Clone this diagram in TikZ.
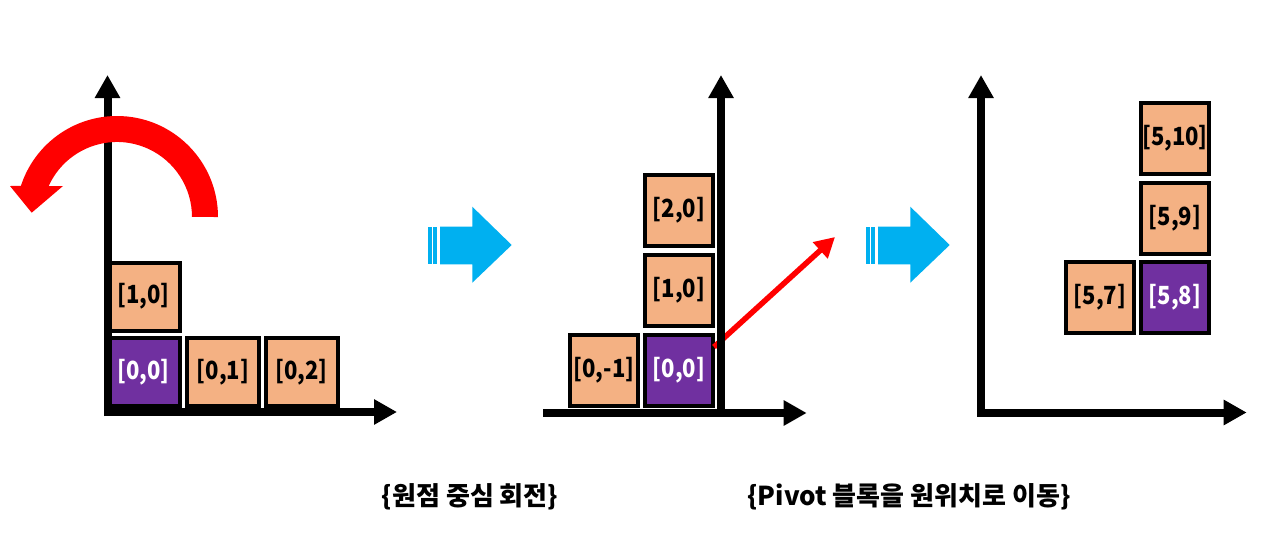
\documentclass[tikz,border=0pt]{standalone}
\usepackage{fontspec}
\setmainfont{Noto Sans CJK KR}
\newfontfamily\blockfont{Noto Sans CJK KR}[FakeStretch=0.88]
\usetikzlibrary{arrows.meta}
\definecolor{blk}{HTML}{F4B183}
\definecolor{piv}{HTML}{7030A0}
\definecolor{sky}{HTML}{00B0F0}
\definecolor{rd}{HTML}{FF0000}
\begin{document}
\begin{tikzpicture}[x=1pt,y=-1pt,
  blockbase/.style={draw=black, line width=4pt, fill=blk, inner sep=0pt, text=black,
    font=\blockfont\fontsize{25}{25}\selectfont\bfseries},
  blockA/.style={blockbase, minimum width=72pt, minimum height=68pt},
  blockB/.style={blockbase, minimum width=68pt, minimum height=71pt},
  pivot/.style={fill=piv, text=white},
  axisline/.style={line width=8pt, -{Triangle[width=24pt,length=23pt]}},
  lbl/.style={font=\fontsize{26}{26}\selectfont\bfseries},
  bluearrow/.pic={
    \fill[sky] (0,-18.3) rectangle (3.4,19.3);
    \fill[sky] (5,-18.3) rectangle (9,19.3);
    \fill[sky] (11.7,-18.3) -- (44,-18.3) -- (44,-38.3) -- (83.4,0) -- (44,37.7) -- (44,19.3) -- (11.7,19.3) -- cycle;
  }]
\useasboundingbox (0,0) rectangle (1283,549);
\fill[white] (0,0) rectangle (1283,549);

% ---------- Panel 1 ----------
\node[blockA, pivot] (p1o) at (143.5,372) {[0,0]};
\node[blockA] (p1a) at (143.5,296.5) {[1,0]};
\node[blockA] (p1b) at (223,372) {[0,1]};
\node[blockA] (p1c) at (301.5,372) {[0,2]};
\coordinate (a1b) at (107.5,416);
\coordinate (a1y) at (107.5,75);
\coordinate (a1l) at (104,412);
\coordinate (a1x) at (397,412);
\draw[axisline] (a1b) -- (a1y);
\draw[axisline] (a1l) -- (a1x);
% red rotation arrow
\fill[rd] (218,217) arc[start angle=0, end angle=-162.1, radius=101]
  -- (10,186) -- (31.7,212.7) -- (63,186)
  -- (48.7,186) arc[start angle=-155.6, end angle=0, radius=75] -- cycle;

% ---------- transition arrows ----------
\pic at (428.3,245) {bluearrow};
\pic at (866.3,245) {bluearrow};

% ---------- Panel 2 ----------
\node[blockB, pivot] (p2o) at (679,370) {[0,0]};
\node[blockB] (p2m) at (604,370) {[0,-1]};
\node[blockB] (p2a) at (679,290.5) {[1,0]};
\node[blockB] (p2b) at (679,210.5) {[2,0]};
\coordinate (r0) at (714,347);
\coordinate (r1) at (835,237);
\draw[rd, line width=5.5pt, -{Triangle[width=21pt,length=20pt]}] (r0) -- (r1);
\coordinate (a2b) at (721,413);
\coordinate (a2y) at (721,75);
\coordinate (a2l) at (543,413);
\coordinate (a2x) at (806.7,413);
\draw[axisline] (a2b) -- (a2y);
\draw[axisline] (a2l) -- (a2x);

% ---------- Panel 3 ----------
\node[blockB] (p3c) at (1175,138.7) {[5,10]};
\node[blockB] (p3b) at (1175,218) {[5,9]};
\node[blockB, pivot] (p3o) at (1175,297) {[5,8]};
\node[blockB] (p3m) at (1100,297) {[5,7]};
\coordinate (a3b) at (981,416.7);
\coordinate (a3y) at (981,75);
\coordinate (a3l) at (977,412.5);
\coordinate (a3x) at (1246.7,412.5);
\draw[axisline] (a3b) -- (a3y);
\draw[axisline] (a3l) -- (a3x);

% ---------- captions ----------
\node[lbl] (t1) at (470,496.5) {\{원점 중심 회전\}};
\node[lbl] (t2) at (909,496.5) {\{Pivot 블록을 원위치로 이동\}};
\end{tikzpicture}
\end{document}
